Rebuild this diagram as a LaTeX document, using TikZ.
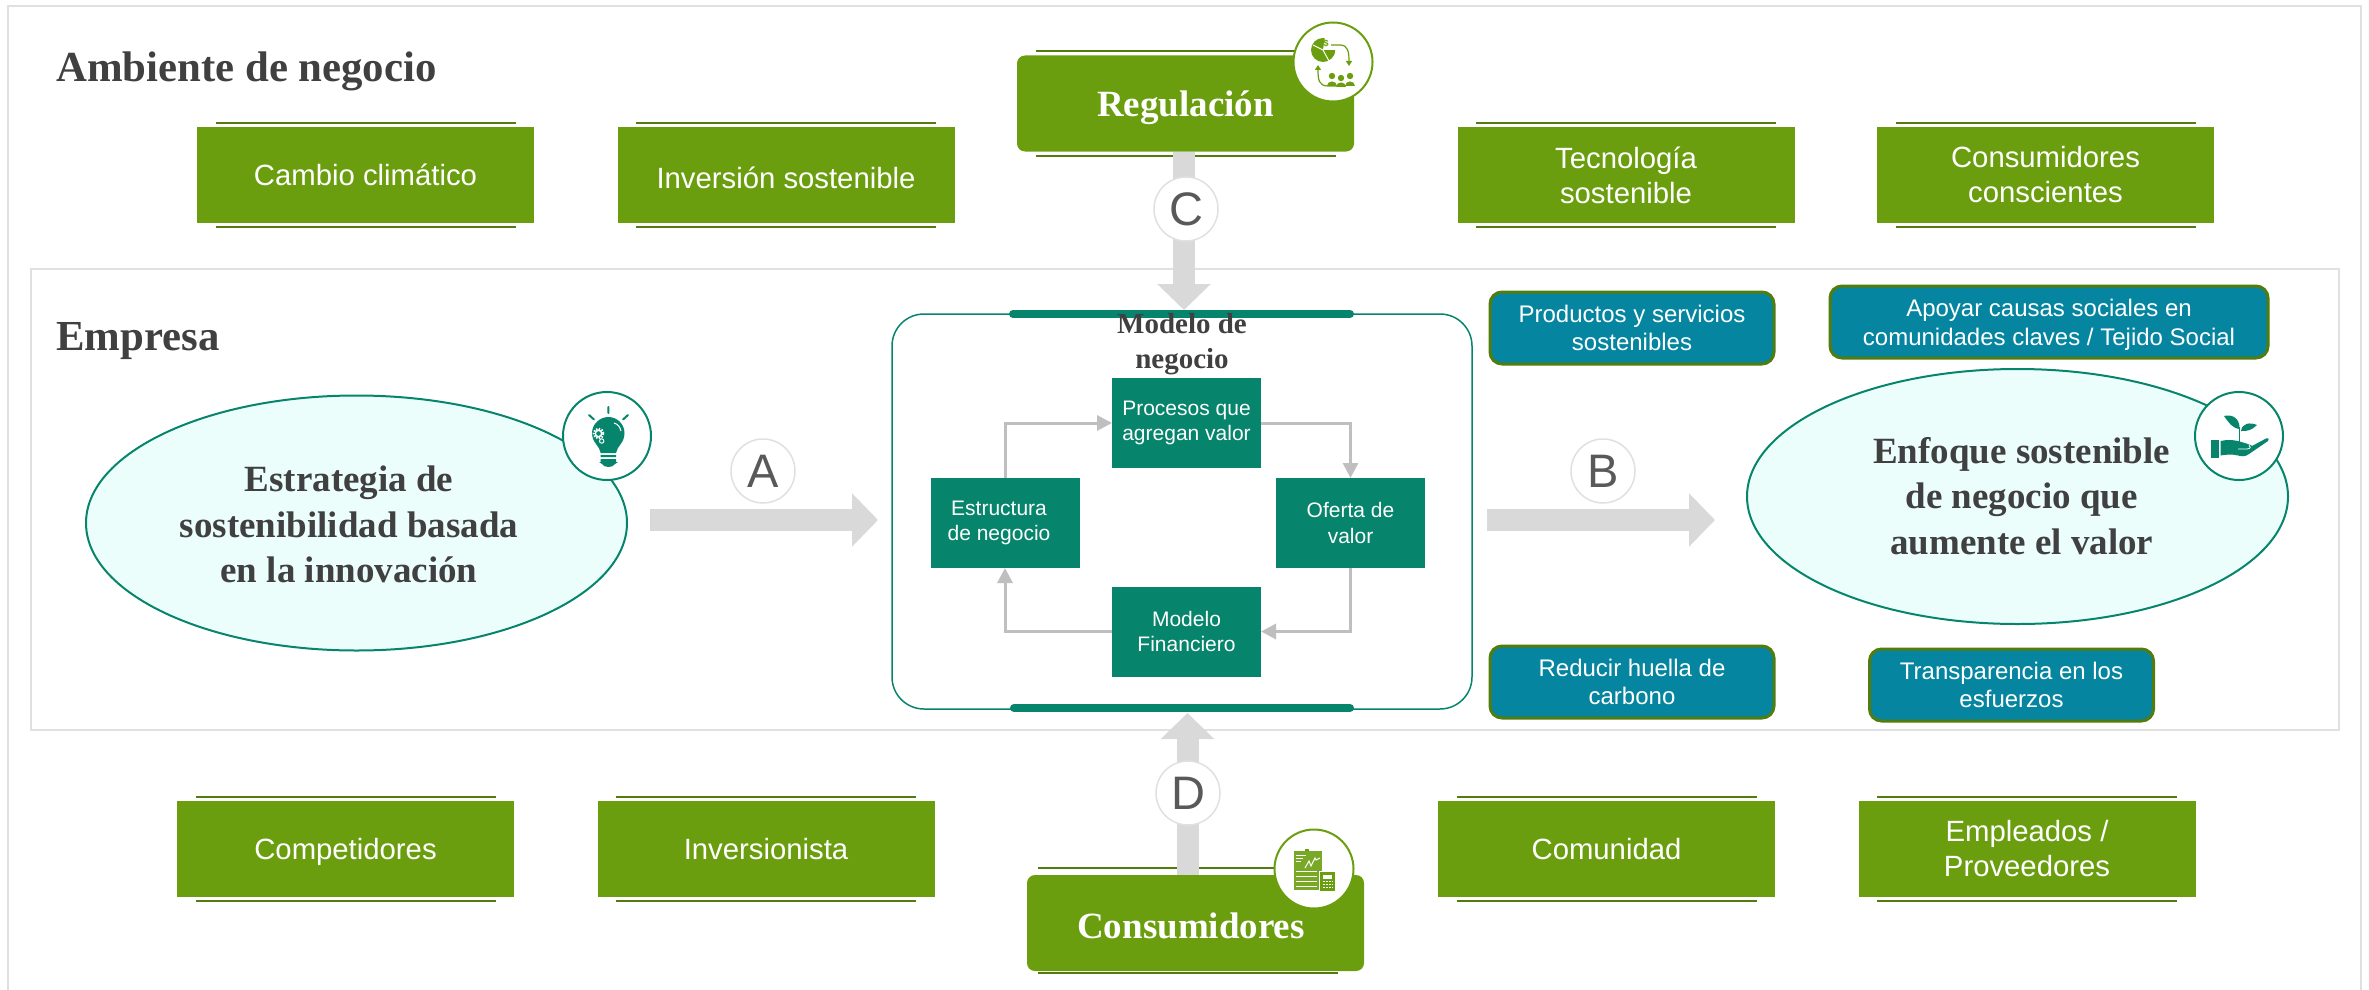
\documentclass[tikz,border=0pt]{standalone}
\usepackage{fontspec}
\setmainfont{Liberation Sans}
\newfontfamily\serifbold[Ligatures=TeX]{Liberation Serif Bold}
\usetikzlibrary{arrows.meta,positioning,shapes}

\definecolor{leaf}{HTML}{6A9E0F}
\definecolor{leafdark}{HTML}{527C0E}
\definecolor{teal}{HTML}{06856C}
\definecolor{petrol}{HTML}{05859F}
\definecolor{mint}{HTML}{EBFEFB}
\definecolor{framegray}{HTML}{E0E0E0}
\definecolor{arrowgray}{HTML}{D9D9D9}
\definecolor{flowgray}{HTML}{BFBFBF}
\definecolor{inkgray}{HTML}{404040}

% two thin rules above and below a green box
\newcommand{\boxrules}[1]{
  \draw[boxrule] ([xshift=18.5pt,yshift=4pt]#1.north west) -- ([xshift=-18.5pt,yshift=4pt]#1.north east);
  \draw[boxrule] ([xshift=18.5pt,yshift=-4pt]#1.south west) -- ([xshift=-18.5pt,yshift=-4pt]#1.south east);
}
% lowers a text and keeps the size of its box
\newcommand{\lowered}[2]{\raisebox{-#1}[\height][\depth]{#2}}

\begin{document}
\begin{tikzpicture}[
            x=1pt,y=-1pt,
            ctxbox/.style={rectangle,fill=leaf,text=white,minimum width=337,minimum height=96,inner sep=0,outer sep=0,align=center,font=\fontsize{29.3}{35}\selectfont,node distance=420.5},
            keybox/.style={ctxbox,rounded corners=8,font=\serifbold\fontsize{37}{44}\selectfont},
            boxrule/.style={leafdark,line width=2},
            bluebox/.style={rectangle,rounded corners=12,draw=leafdark,line width=3,fill=petrol,text=white,minimum width=284,minimum height=72,inner sep=0,outer sep=0,align=center,font=\fontsize{24}{28.5}\selectfont},
            stepbox/.style={rectangle,fill=teal,text=white,minimum width=149,minimum height=90,inner sep=0,outer sep=0,align=center,font=\fontsize{21}{25.5}\selectfont},
            blob/.style={ellipse,draw=teal,line width=2,fill=mint,text=inkgray,minimum width=541,minimum height=255,inner sep=0,outer sep=0,font=\serifbold\fontsize{37}{45.5}\selectfont},
            heading/.style={anchor=base west,inner sep=0,text=inkgray,font=\serifbold\fontsize{42.8}{48}\selectfont},
            lettermark/.style={circle,draw=framegray,line width=1.5,fill=white,text=black!65,minimum size=64,inner sep=0,font=\fontsize{47}{47}\selectfont},
            iconring/.style={circle,line width=2,fill=white,inner sep=0},
            bigarrow/.style={draw=arrowgray,line width=22,-{Triangle[length=26pt,width=52pt]}},
            flow/.style={draw=flowgray,line width=3,-{Triangle[length=15pt,width=15pt]}}
          ]
          \useasboundingbox (0,0) rectangle (2369,990);

          %frames
          \draw[framegray,line width=2] (8,990) -- (8,6) -- (2361,6) -- (2361,990);
          \draw[framegray,line width=2] (31,269) rectangle (2339,730);

          %headings
          \node[heading] (ambiente) at (56,81.5) {Ambiente de negocio};
          \node[heading] (empresa) at (56,350) {Empresa};

          %top row
          \node[ctxbox] (cambio) at (365.5,175) {Cambio climático};
          \node[right of = cambio,ctxbox] (inversion) {\lowered{3pt}{Inversión sostenible}};
          \node[ctxbox] (tecnologia) at (1626,175) {Tecnología\\sostenible};
          \node[right of = tecnologia,ctxbox,node distance=419.5] (conscientes) {Consumidores\\conscientes};
          \boxrules{cambio}
          \boxrules{inversion}
          \boxrules{tecnologia}
          \boxrules{conscientes}

          %bottom row
          \node[ctxbox] (competidores) at (345.5,849) {\lowered{3pt}{Competidores}};
          \node[right of = competidores,ctxbox] (inversionista) {Inversionista};
          \node[ctxbox] (comunidad) at (1606.5,849) {Comunidad};
          \node[right of = comunidad,ctxbox] (empleados) {Empleados /\\Proveedores};
          \boxrules{competidores}
          \boxrules{inversionista}
          \boxrules{comunidad}
          \boxrules{empleados}

          %key boxes
          \node[keybox] (regulacion) at (1185.5,103.5) {\lowered{4.5pt}{Regulación}};
          \node[keybox] (consumidores) at (1195.5,923) {\lowered{3pt}{Consumidores}\hspace*{9pt}};
          \boxrules{regulacion}
          \draw[boxrule] (1038,868) -- (1300,868);
          \draw[boxrule] (1038,973) -- (1338,973);

          %business model
          \node[rectangle,rounded corners=32,draw=teal,line width=1.5,fill=white,minimum width=580,minimum height=395,inner sep=0,outer sep=0] (modelo) at (1182,511.5) {};
          \draw[teal,line width=8,line cap=round] (1013,314) -- (1350,314);
          \draw[teal,line width=8,line cap=round] (1014,708) -- (1350,708);
          \node[inner sep=0,text=inkgray,align=center,font=\serifbold\fontsize{29}{35}\selectfont] (titulo) at (1182,344) {Modelo de\\negocio};

          \node[stepbox] (procesos) at (1186.5,423) {Procesos que\\agregan valor};
          \node[stepbox] (estructura) at (1005,523) {Estructura\hspace*{12pt}\\de negocio\hspace*{12pt}};
          \node[stepbox] (oferta) at (1350.5,523) {Oferta de\\valor};
          \node[stepbox] (financiero) at (1186.5,631.5) {Modelo\\Financiero};
          \draw[flow] (estructura) |- (procesos);
          \draw[flow] (procesos) -| (oferta);
          \draw[flow] (oferta) |- (financiero);
          \draw[flow] (financiero) -| (estructura);

          %strategy and focus
          \node[blob] (estrategia) at (356.5,523) {\lowered{5pt}{\begin{tabular}{@{}c@{}}Estrategia de\\sostenibilidad basada\\en la innovación\end{tabular}}\hspace*{15pt}};
          \node[blob] (enfoque) at (2017.5,496.5) {\hspace*{8.4pt}\lowered{3pt}{\begin{tabular}{@{}c@{}}Enfoque sostenible\\de negocio que\\aumente el valor\end{tabular}}};

          %blue notes
          \node[bluebox] (productos) at (1632,328) {Productos y servicios\\sostenibles};
          \node[bluebox,minimum width=438] (apoyar) at (2049,322) {\lowered{3pt}{Apoyar causas sociales en}\\\lowered{3pt}{comunidades claves / Tejido Social}};
          \node[bluebox] (reducir) at (1632,682) {Reducir huella de\\carbono};
          \node[bluebox] (transparencia) at (2011.5,685) {Transparencia en los\\esfuerzos};

          %big arrows
          \draw[bigarrow,shorten >=4pt] ([xshift=-1.5pt]regulacion.south) -- ([xshift=2pt]modelo.north);
          \draw[bigarrow,shorten >=4pt] ([xshift=-8pt]consumidores.north) -- ([xshift=5.5pt]modelo.south);
          \draw[bigarrow,shorten <=23pt,shorten >=14pt] ([yshift=3pt]estrategia.east) -- ([yshift=-8.5pt]modelo.west);
          \draw[bigarrow,shorten <=15pt,shorten >=32pt] ([yshift=-8.5pt]modelo.east) -- ([yshift=-23.5pt]enfoque.west);

          %letters
          \node[lettermark] (letraA) at (763,471) {A};
          \node[lettermark] (letraB) at (1603,471) {B};
          \node[lettermark] (letraC) at (1186,209) {C};
          \node[lettermark] (letraD) at (1188,793) {D};

          %icon regulacion
          \node[iconring,draw=leaf,minimum size=79] (iconoreg) at (1333,62) {};
          \fill[leaf] (1323,50) circle[radius=12];
          \fill[white] (1323,50) -- (1325,37) -- (1337,37) -- (1337,50) -- cycle;
          \fill[leaf] (1323,50) -- (1335,51) .. controls (1335,55) and (1332,58) .. (1329,60) -- cycle;
          \draw[white,line width=1] (1313,45) -- (1323,50) -- (1329,61);
          \node[inner sep=0,text=leaf,font=\fontsize{9}{9}\bfseries\selectfont] (dolar) at (1326,43) {\$};
          \draw[leaf,line width=1.2,-{Triangle[length=5pt,width=6pt]}] (1331,45) -- (1340,45) .. controls (1348,45) and (1349,52) .. (1349,66);
          \draw[leaf,line width=1.2,-{Triangle[length=5pt,width=6pt]}] (1336,86) -- (1328,86) .. controls (1319,86) and (1318,80) .. (1318,65);
          \fill[leaf] (1332,76) circle[radius=3.2] (1341,78) circle[radius=3.2] (1350,76) circle[radius=3.2];
          \fill[leaf] (1327,86) .. controls (1327,80) and (1337,80) .. (1337,86) -- cycle;
          \fill[leaf] (1336,87) .. controls (1336,81) and (1346,81) .. (1346,87) -- cycle;
          \fill[leaf] (1345,86) .. controls (1345,80) and (1355,80) .. (1355,86) -- cycle;

          %icon consumidores
          \node[iconring,draw=leaf,minimum size=79] (iconocons) at (1314,869) {};
          \fill[leaf!90!white] (1293.5,851) rectangle (1321.5,889.5);
          \fill[leaf] (1305,849) rectangle (1309,851);
          \draw[white,line width=1] (1296,855.5) -- (1306,855.5) (1296,858.5) -- (1303,858.5) (1296,861) -- (1301,861);
          \draw[white,line width=1] (1305,868) -- (1309,861) -- (1311,866) -- (1315,858) -- (1316,860) -- (1320,858);
          \draw[white,line width=1] (1296,871.5) -- (1317,871.5) (1296,876.5) -- (1317,876.5) (1296,881.5) -- (1317,881.5) (1296,886.5) -- (1317,886.5);
          \draw[white,fill=leaf,line width=1] (1319.5,871.5) rectangle (1335,891);
          \fill[white] (1323,875) rectangle (1332,879);
          \draw[white,line width=1.5,dash pattern=on 2pt off 1.2pt] (1322.5,881.5) -- (1333,881.5) (1322.5,884.5) -- (1333,884.5) (1322.5,887.5) -- (1333,887.5);

          %icon estrategia
          \node[iconring,draw=teal,minimum size=88] (iconobulbo) at (607,436) {};
          \fill[teal] (600.7,453) .. controls (600,446) and (592,443) .. (592,433) .. controls (592,424) and (600,417) .. (608.3,417) .. controls (617,417) and (624.5,424) .. (624.5,433) .. controls (624.5,443) and (617,446) .. (616,453) -- cycle;
          \fill[teal] (600.7,455) rectangle (616,457) (600.7,459) rectangle (616,462);
          \fill[teal] (599,462) -- (618,462) -- (615,464) .. controls (613,468) and (604,468) .. (602,464) -- cycle;
          \draw[teal,line width=2,line cap=round] (608.3,407) -- (608.3,413) (589,415) -- (594,419.5) (628,415) -- (623,419.5);
          \draw[white,line width=1.5] (598.5,433.5) circle[radius=3.2];
          \draw[white,line width=1.8,dash pattern=on 1.5pt off 1.4pt] (598.5,433.5) circle[radius=5];
          \draw[white,line width=1] (601.7,441) circle[radius=2.2];
          \draw[white,line width=1] (614,423) .. controls (618,424) and (620,427) .. (621,431);

          %icon enfoque
          \node[iconring,draw=teal,minimum size=88] (iconomano) at (2239,436) {};
          \fill[teal] (2210.7,439.5) rectangle (2218.5,457.5);
          \fill[teal] (2220.7,441) .. controls (2228,439) and (2236,440) .. (2243,442.5) .. controls (2248,444) and (2251,445) .. (2252,446) -- (2266,438.5) .. controls (2269,437.5) and (2269.5,440) .. (2268,441) -- (2249,454) .. controls (2245,457) and (2242,456.5) .. (2238,455.5) .. controls (2232,454) and (2226,454.5) .. (2220.7,455.5) -- cycle;
          \draw[white,line width=.8] (2238,449) -- (2247,449) .. controls (2251,449) and (2251,446) .. (2249,445);
          \draw[teal,line width=1.5] (2239.5,427) -- (2239.5,442);
          \fill[teal] (2224,416) .. controls (2232,414) and (2240,418) .. (2239.5,429) .. controls (2232,428) and (2229,423) .. (2224,416) -- cycle;
          \fill[teal] (2257,425) .. controls (2250,422) and (2242,423) .. (2241,431) .. controls (2247,431.5) and (2252,430) .. (2257,425) -- cycle;
      \end{tikzpicture}
\end{document}
